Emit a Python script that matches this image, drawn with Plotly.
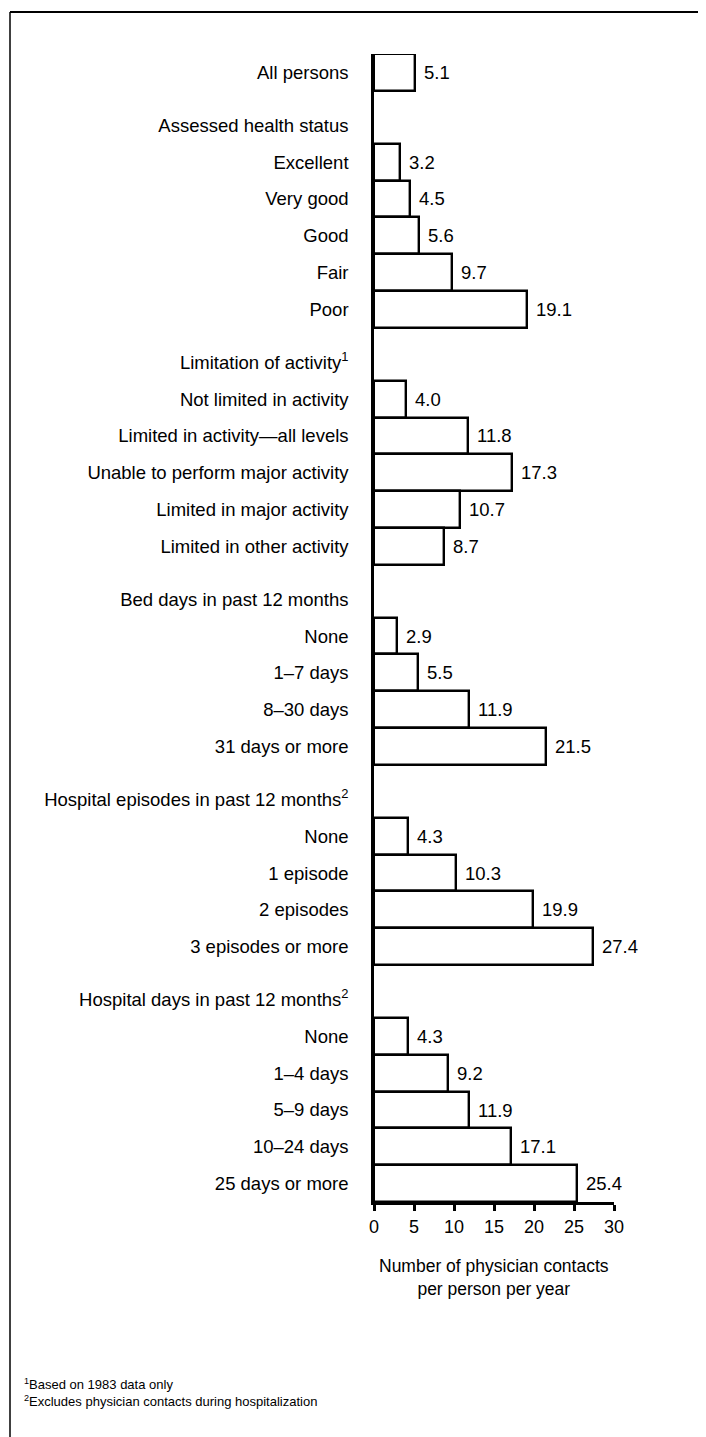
import plotly.graph_objects as go

# ---------------- data ----------------
all_label = "All persons"
all_value = 5.1

group_titles = [
    "Assessed health status",
    "Limitation of activity<sup>1</sup>",
    "Bed days in past 12 months",
    "Hospital episodes in past 12 months<sup>2</sup>",
    "Hospital days in past 12 months<sup>2</sup>",
]

health_labels = ["Excellent", "Very good", "Good", "Fair", "Poor"]
health_values = [3.2, 4.5, 5.6, 9.7, 19.1]

limit_labels = [
    "Not limited in activity",
    "Limited in activity\u2014all levels",
    "Unable to perform major activity",
    "Limited in major activity",
    "Limited in other activity",
]
limit_values = [4.0, 11.8, 17.3, 10.7, 8.7]

bed_labels = ["None", "1\u20137 days", "8\u201330 days", "31 days or more"]
bed_values = [2.9, 5.5, 11.9, 21.5]

episode_labels = ["None", "1 episode", "2 episodes", "3 episodes or more"]
episode_values = [4.3, 10.3, 19.9, 27.4]

hospday_labels = ["None", "1\u20134 days", "5\u20139 days", "10\u201324 days", "25 days or more"]
hospday_values = [4.3, 9.2, 11.9, 17.1, 25.4]

x_ticks = [0, 5, 10, 15, 20, 25, 30]
x_title = "Number of physician contacts<br>per person per year"
footnotes = [
    "<sup>1</sup>Based on 1983 data only",
    "<sup>2</sup>Excludes physician contacts during hospitalization",
]

# ---------------- layout of rows ----------------
groups = [
    (group_titles[0], health_labels, health_values),
    (group_titles[1], limit_labels, limit_values),
    (group_titles[2], bed_labels, bed_values),
    (group_titles[3], episode_labels, episode_values),
    (group_titles[4], hospday_labels, hospday_values),
]
HEADER_GAP = 1.44

bar_pos, bar_vals = [0.0], [all_value]
tick_pos, tick_txt = [0.0], [all_label]
cur = 0.0
for title, labels, vals in groups:
    cur += HEADER_GAP
    tick_pos.append(cur)
    tick_txt.append(title)
    for lab, v in zip(labels, vals):
        cur += 1.0
        bar_pos.append(cur)
        bar_vals.append(v)
        tick_pos.append(cur)
        tick_txt.append(lab)

# page has an 8px body margin: work in page pixels, convert to figure pixels
OFF = 8
W, H = 706 - OFF, 1437 - OFF
L, R = 374 - OFF, 614 - OFF          # plot area x (figure px)
T, B = 54 - OFF, 1202 - OFF          # plot area y (figure px)

def px_x(p):
    return (p - OFF - L) / (R - L)

def px_y(p):
    return (B - (p - OFF)) / (B - T)

FONT = "Liberation Sans, Arial, Helvetica, sans-serif"
FS = 18.5

fig = go.Figure()
fig.add_trace(go.Bar(
    x=bar_vals, y=bar_pos, orientation="h", width=1.0,
    marker=dict(color="white", line=dict(color="black", width=2.4)),
    hoverinfo="x+y", showlegend=False,
))

annotations = []
for v, p in zip(bar_vals, bar_pos):
    annotations.append(dict(
        x=v, y=p, xref="x", yref="y", text=f"{v:.1f}", showarrow=False,
        xanchor="left", yanchor="middle", xshift=7,
        font=dict(size=FS, color="black", family=FONT),
    ))

annotations.append(dict(
    x=0.5, y=px_y(1278), xref="paper", yref="paper", text=x_title,
    showarrow=False, xanchor="center", yanchor="middle", align="center",
    font=dict(size=17.5, color="black", family=FONT),
))
annotations.append(dict(
    x=px_x(22), y=px_y(1392), xref="paper", yref="paper",
    text="<br>".join(footnotes), showarrow=False,
    xanchor="left", yanchor="middle", align="left",
    font=dict(size=13, color="black", family=FONT),
))

shapes = [
    dict(type="line", xref="paper", yref="paper",
         x0=px_x(10), x1=px_x(706), y0=px_y(12), y1=px_y(12),
         line=dict(color="black", width=2)),
    dict(type="line", xref="paper", yref="paper",
         x0=px_x(10), x1=px_x(10), y0=px_y(12), y1=px_y(1437),
         line=dict(color="black", width=1.5)),
]

fig.update_layout(
    width=W, height=H,
    margin=dict(l=L, r=W - R, t=T, b=H - B, pad=0),
    paper_bgcolor="white", plot_bgcolor="white",
    font=dict(family=FONT, size=FS, color="black"),
    bargap=0,
    annotations=annotations,
    shapes=shapes,
    xaxis=dict(
        range=[0, 30], tickvals=x_ticks, ticktext=[str(t) for t in x_ticks],
        showgrid=False, zeroline=False,
        showline=True, linecolor="black", linewidth=3,
        ticks="outside", ticklen=6, tickwidth=2.5, tickcolor="black",
        tickfont=dict(size=18, family=FONT, color="black"),
        fixedrange=True,
    ),
    yaxis=dict(
        range=[bar_pos[-1] + 0.5, -0.5],
        tickvals=tick_pos, ticktext=tick_txt,
        showgrid=False, zeroline=False,
        showline=True, linecolor="black", linewidth=2.5,
        ticks="", ticklabelstandoff=19,
        tickfont=dict(size=FS, family=FONT, color="black"),
        fixedrange=True,
    ),
)

fig.write_html("out.html")
